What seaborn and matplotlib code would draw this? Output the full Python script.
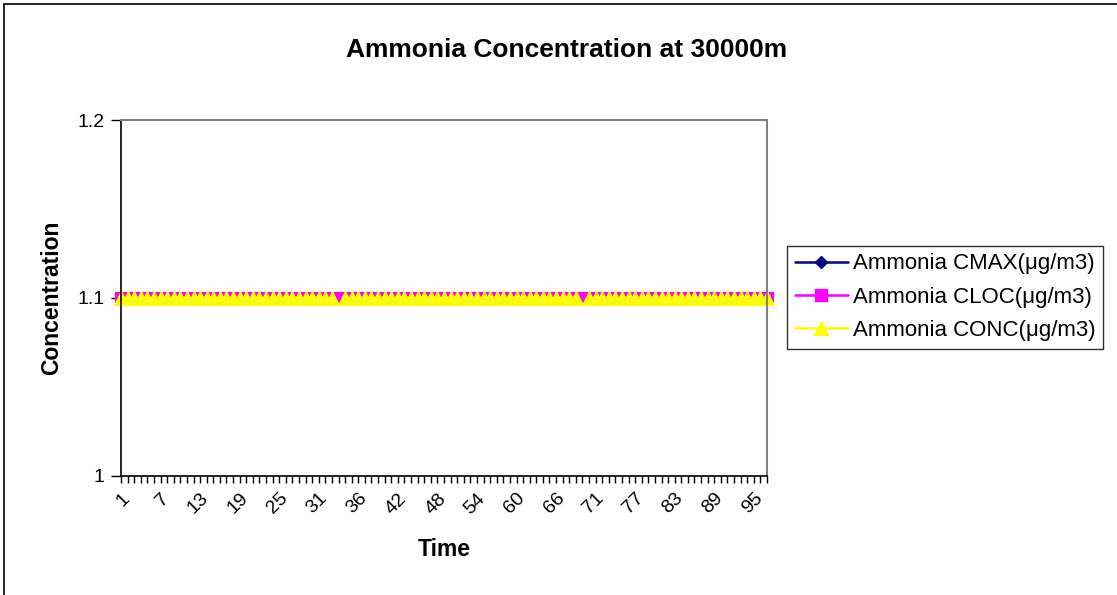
import numpy as np
import pandas as pd
import matplotlib
matplotlib.use("Agg")
import matplotlib.pyplot as plt
from matplotlib.lines import Line2D
import seaborn as sns

# ---- data -------------------------------------------------------------
time_labels = ([str(i) for i in range(1, 34)] + [""] +
               [str(i) for i in range(34, 70)] + [""] +
               [str(i) for i in range(70, 98)])

nan = np.nan
cmax = [
    1.1, 1.1, 1.1, 1.1, 1.1, 1.1, 1.1, 1.1, 1.1, 1.1, 1.1,
    1.1, 1.1, 1.1, 1.1, 1.1, 1.1, 1.1, 1.1, 1.1, 1.1, 1.1,
    1.1, 1.1, 1.1, 1.1, 1.1, 1.1, 1.1, 1.1, 1.1, 1.1, 1.1,
    1.1, 1.1, 1.1, 1.1, 1.1, 1.1, 1.1, 1.1, 1.1, 1.1, 1.1,
    1.1, 1.1, 1.1, 1.1, 1.1, 1.1, 1.1, 1.1, 1.1, 1.1, 1.1,
    1.1, 1.1, 1.1, 1.1, 1.1, 1.1, 1.1, 1.1, 1.1, 1.1, 1.1,
    1.1, 1.1, 1.1, 1.1, 1.1, 1.1, 1.1, 1.1, 1.1, 1.1, 1.1,
    1.1, 1.1, 1.1, 1.1, 1.1, 1.1, 1.1, 1.1, 1.1, 1.1, 1.1,
    1.1, 1.1, 1.1, 1.1, 1.1, 1.1, 1.1, 1.1, 1.1, 1.1, 1.1,
]
cloc = [
    1.1, 1.1, 1.1, 1.1, 1.1, 1.1, 1.1, 1.1, 1.1, 1.1, 1.1,
    1.1, 1.1, 1.1, 1.1, 1.1, 1.1, 1.1, 1.1, 1.1, 1.1, 1.1,
    1.1, 1.1, 1.1, 1.1, 1.1, 1.1, 1.1, 1.1, 1.1, 1.1, 1.1,
    1.1, 1.1, 1.1, 1.1, 1.1, 1.1, 1.1, 1.1, 1.1, 1.1, 1.1,
    1.1, 1.1, 1.1, 1.1, 1.1, 1.1, 1.1, 1.1, 1.1, 1.1, 1.1,
    1.1, 1.1, 1.1, 1.1, 1.1, 1.1, 1.1, 1.1, 1.1, 1.1, 1.1,
    1.1, 1.1, 1.1, 1.1, 1.1, 1.1, 1.1, 1.1, 1.1, 1.1, 1.1,
    1.1, 1.1, 1.1, 1.1, 1.1, 1.1, 1.1, 1.1, 1.1, 1.1, 1.1,
    1.1, 1.1, 1.1, 1.1, 1.1, 1.1, 1.1, 1.1, 1.1, 1.1, 1.1,
]
conc = [
    1.1, 1.1, 1.1, 1.1, 1.1, 1.1, 1.1, 1.1, 1.1, 1.1, 1.1,
    1.1, 1.1, 1.1, 1.1, 1.1, 1.1, 1.1, 1.1, 1.1, 1.1, 1.1,
    1.1, 1.1, 1.1, 1.1, 1.1, 1.1, 1.1, 1.1, 1.1, 1.1, 1.1,
    nan, 1.1, 1.1, 1.1, 1.1, 1.1, 1.1, 1.1, 1.1, 1.1, 1.1,
    1.1, 1.1, 1.1, 1.1, 1.1, 1.1, 1.1, 1.1, 1.1, 1.1, 1.1,
    1.1, 1.1, 1.1, 1.1, 1.1, 1.1, 1.1, 1.1, 1.1, 1.1, 1.1,
    1.1, 1.1, 1.1, 1.1, nan, 1.1, 1.1, 1.1, 1.1, 1.1, 1.1,
    1.1, 1.1, 1.1, 1.1, 1.1, 1.1, 1.1, 1.1, 1.1, 1.1, 1.1,
    1.1, 1.1, 1.1, 1.1, 1.1, 1.1, 1.1, 1.1, 1.1, 1.1, 1.1,
]

series_names = ["Ammonia CMAX(μg/m3)", "Ammonia CLOC(μg/m3)", "Ammonia CONC(μg/m3)"]
series_values = [cmax, cloc, conc]
y_ticks = [1, 1.1, 1.2]
y_tick_labels = ["1", "1.1", "1.2"]

colors = {series_names[0]: "#000080", series_names[1]: "#FF00FF", series_names[2]: "#FFFF00"}
markers = {series_names[0]: "D", series_names[1]: "s", series_names[2]: "^"}
marker_sizes = {"D": 6.3, "s": 8.6, "^": 9.5}

# ---- long-form table; blank cells split a series into separate segments
rows = []
for name, vals in zip(series_names, series_values):
    seg = 0
    for i, v in enumerate(vals):
        if np.isnan(v):
            seg += 1
            continue
        rows.append({"idx": i, "value": v, "series": name, "segment": f"{name}-{seg}"})
df = pd.DataFrame(rows)

# ---- figure -----------------------------------------------------------
sns.set_style("white")
plt.rcParams["font.family"] = ["Liberation Sans", "DejaVu Sans"]
plt.rcParams["text.color"] = "black"
plt.rcParams["axes.labelcolor"] = "black"
plt.rcParams["xtick.color"] = "black"
plt.rcParams["ytick.color"] = "black"

fig = plt.figure(figsize=(11.17, 5.95), dpi=100)
ax = fig.add_axes([121 / 1117, 1 - 476 / 595, 646 / 1117, 356 / 595])

sns.lineplot(data=df, x="idx", y="value", hue="series", style="series",
             units="segment", estimator=None, hue_order=series_names,
             style_order=series_names, palette=colors, markers=markers,
             dashes=False, linewidth=1.8, markersize=8.6, legend=False,
             sort=True, ax=ax)
for ln in ax.lines:
    ln.set_markeredgecolor(ln.get_color())
    ln.set_markeredgewidth(0.8)
    ln.set_markersize(marker_sizes[ln.get_marker()])
    ln.set_clip_on(False)

ax.set_xlim(0, len(time_labels) - 1)
ax.set_ylim(1, 1.2)
ax.set_yticks(y_ticks)
ax.set_yticklabels(y_tick_labels)
ax.set_xticks(range(len(time_labels)))
ax.set_xticklabels([lab if i % 6 == 0 else "" for i, lab in enumerate(time_labels)],
                   rotation=45, ha="right", va="top", rotation_mode="anchor")
ax.tick_params(axis="x", direction="out", length=5, width=1, color="black",
               labelsize=14, pad=5, bottom=True)
ax.tick_params(axis="y", direction="out", length=7, width=1, color="black",
               labelsize=14, pad=5, left=True)

for side in ["left", "bottom"]:
    ax.spines[side].set_color("black")
    ax.spines[side].set_linewidth(1.2)
for side in ["top", "right"]:
    ax.spines[side].set_color("#808080")
    ax.spines[side].set_linewidth(1.5)

ax.set_xlabel("Time", fontsize=16.5, fontweight="bold", va="center")
ax.xaxis.set_label_coords(0.5, (476 - 550) / 356)
ax.set_ylabel("Concentration", fontsize=16.5, fontweight="bold", va="center")
ax.yaxis.set_label_coords((52 - 121) / 646, 0.5)

fig.suptitle("Ammonia Concentration at 30000m", x=567 / 1117, y=1 - 50 / 595,
             va="center", fontsize=19, fontweight="bold")

handles = [Line2D([], [], color=colors[n], marker=markers[n],
                  markersize=marker_sizes[markers[n]], markeredgecolor=colors[n],
                  linewidth=1.8) for n in series_names]
leg = fig.legend(handles, series_names, loc="center left",
                 bbox_to_anchor=(787 / 1117, 1 - 297 / 595), frameon=True,
                 fancybox=False, edgecolor="black", fontsize=16, handlelength=2.4,
                 handletextpad=0.2, labelspacing=0.55, borderpad=0.35,
                 borderaxespad=0, numpoints=1)
leg.get_frame().set_linewidth(1.0)

# chart-area border
fig.add_artist(Line2D([4 / 1117, 4 / 1117], [0, 1 - 4 / 595], color="black",
                      linewidth=1.2, transform=fig.transFigure))
fig.add_artist(Line2D([4 / 1117, 1], [1 - 4 / 595, 1 - 4 / 595], color="black",
                      linewidth=1.2, transform=fig.transFigure))

fig.savefig("out.png", dpi=100)
